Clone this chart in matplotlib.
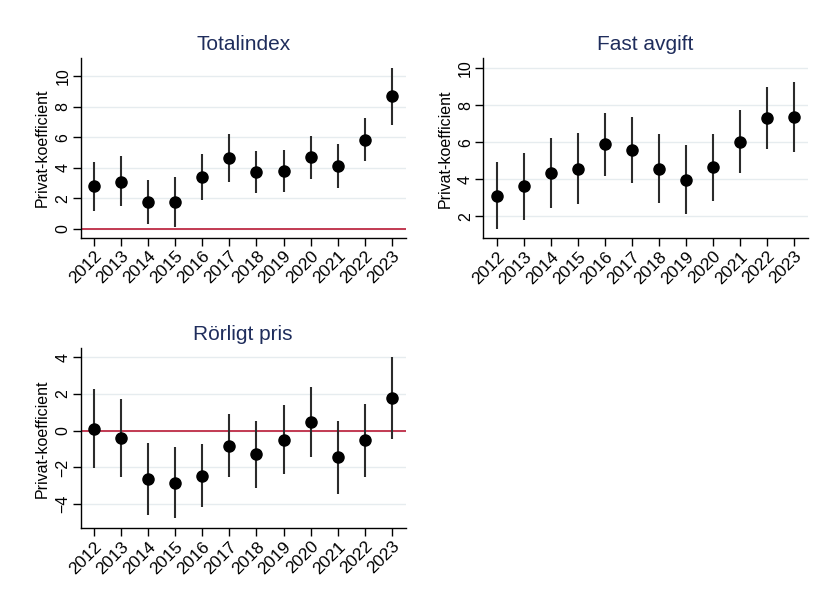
import numpy as np
import matplotlib
matplotlib.use("Agg")
import matplotlib.pyplot as plt

plt.rcParams['font.family'] = ['Liberation Sans', 'DejaVu Sans']

# ================= data =================
years = [2012, 2013, 2014, 2015, 2016, 2017, 2018, 2019, 2020, 2021, 2022, 2023]

# Totalindex
total_coef = [2.78, 3.10, 1.75, 1.77, 3.41, 4.66, 3.72, 3.76, 4.68, 4.11, 5.84, 8.69]
total_lo = [1.20, 1.50, 0.30, 0.15, 1.90, 3.06, 2.34, 2.39, 3.30, 2.65, 4.46, 6.83]
total_hi = [4.35, 4.80, 3.20, 3.43, 4.92, 6.24, 5.08, 5.16, 6.06, 5.58, 7.24, 10.57]

# Fast avgift
fast_coef = [3.10, 3.62, 4.34, 4.57, 5.90, 5.58, 4.57, 3.98, 4.63, 6.03, 7.29, 7.36]
fast_lo = [1.32, 1.80, 2.47, 2.68, 4.19, 3.82, 2.74, 2.13, 2.83, 4.34, 5.62, 5.47]
fast_hi = [4.91, 5.43, 6.24, 6.48, 7.59, 7.36, 6.44, 5.83, 6.42, 7.72, 8.96, 9.25]

# Rörligt pris
rorl_coef = [0.09, -0.38, -2.65, -2.83, -2.47, -0.82, -1.29, -0.49, 0.47, -1.45, -0.51, 1.76]
rorl_lo = [-2.05, -2.50, -4.59, -4.77, -4.17, -2.50, -3.10, -2.38, -1.42, -3.43, -2.50, -0.45]
rorl_hi = [2.25, 1.74, -0.65, -0.87, -0.74, 0.89, 0.53, 1.42, 2.40, 0.51, 1.47, 3.99]

panels = [
    # title, coef, lo, hi, yticks, ylim, zero line, axes rect (fig fraction)
    ("Totalindex", total_coef, total_lo, total_hi, [0, 2, 4, 6, 8, 10], (-0.6, 11.2), True,
     [0.0977, 0.6053, 0.3935, 0.2985]),
    ("Fast avgift", fast_coef, fast_lo, fast_hi, [2, 4, 6, 8, 10], (0.81, 10.52), False,
     [0.5851, 0.6048, 0.3927, 0.2985]),
    ("Rörligt pris", rorl_coef, rorl_lo, rorl_hi, [-4, -2, 0, 2, 4], (-5.31, 4.49), True,
     [0.0977, 0.1239, 0.3935, 0.2985]),
]

title_color = '#1f2d5c'
line_red = '#c23a52'

fig = plt.figure(figsize=(8.26, 6.03), dpi=100)

for title, coef, lo, hi, yticks, ylim, zero, rect in panels:
    ax = fig.add_axes(rect)
    coef = np.array(coef)
    err = [coef - np.array(lo), np.array(hi) - coef]

    ax.set_ylim(*ylim)
    ax.set_xlim(2011.5, 2023.52)
    ax.set_yticks(yticks)
    ax.set_xticks(years)
    ax.set_xticklabels([str(y) for y in years], rotation=45, ha='right',
                       rotation_mode='anchor')
    ax.grid(axis='y', color='#e6ecef', linewidth=1.0)
    ax.set_axisbelow(True)

    if zero:
        ax.axhline(0, color=line_red, linewidth=1.4, zorder=1)

    ax.errorbar(years, coef, yerr=err, fmt='o', color='black', markersize=8,
                ecolor='#2b2b2b', elinewidth=1.5, capsize=0, zorder=3)

    for s in ['top', 'right']:
        ax.spines[s].set_visible(False)
    ax.spines['left'].set_linewidth(1.0)
    ax.spines['bottom'].set_linewidth(1.0)

    ax.tick_params(axis='both', direction='out', length=5.5, width=1.0, pad=2)
    ax.tick_params(axis='x', labelsize=12.5)
    ax.tick_params(axis='y', labelsize=11.5)
    for lbl in ax.get_yticklabels():
        lbl.set_rotation(90)
        lbl.set_va('center')

    ax.set_ylabel("Privat-koefficient", fontsize=11.5, labelpad=4)
    ax.set_title(title, fontsize=15, color=title_color, pad=6)

fig.savefig("out.png", dpi=100, facecolor='white')
